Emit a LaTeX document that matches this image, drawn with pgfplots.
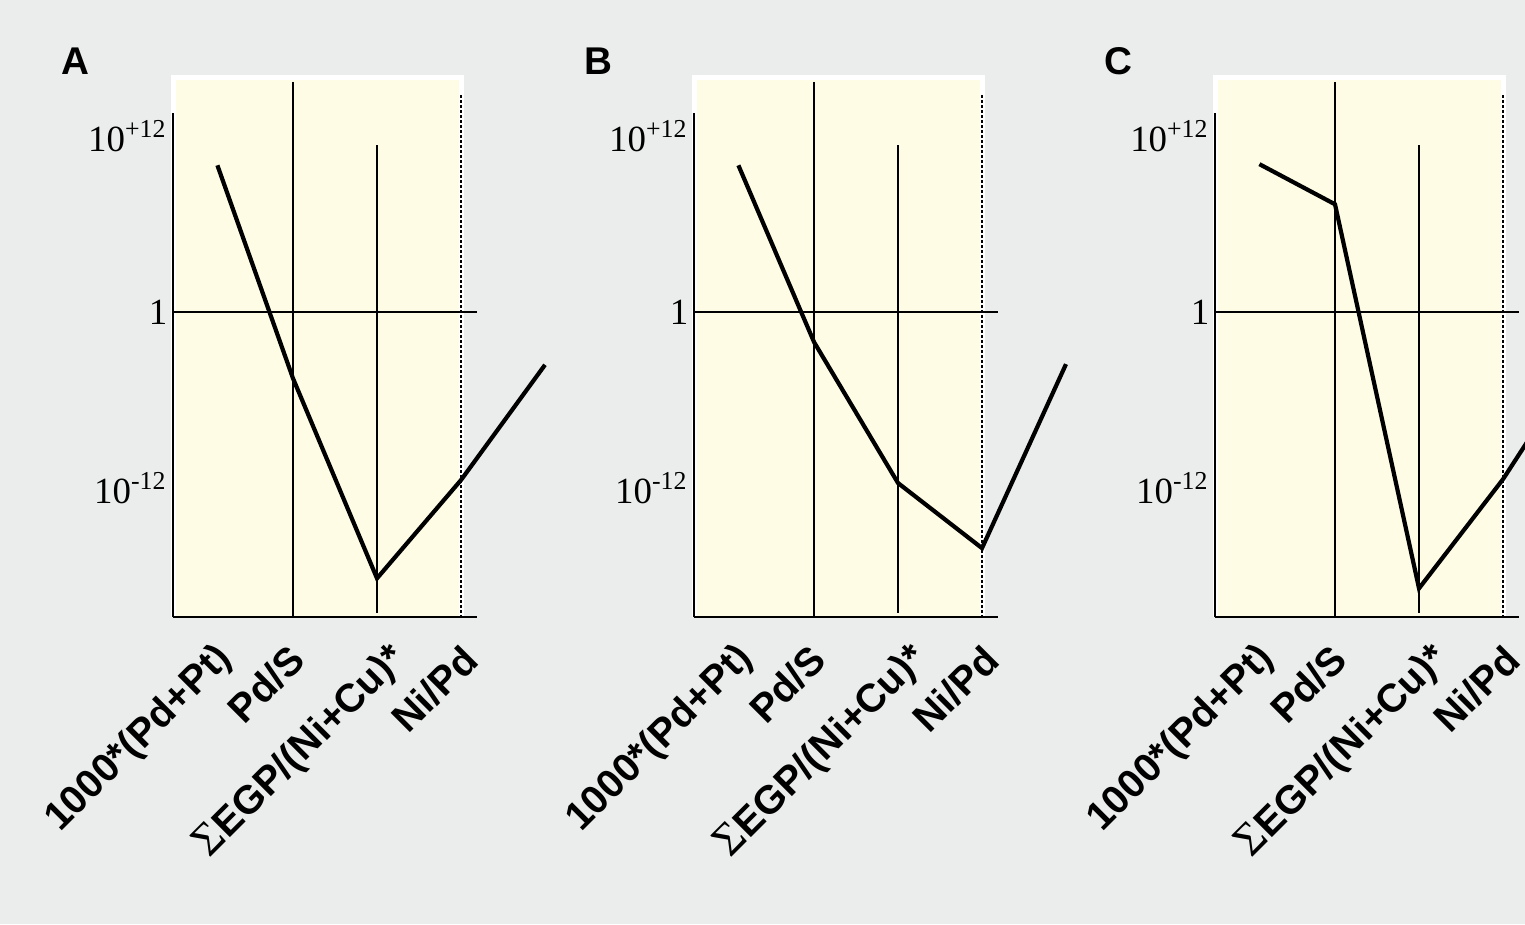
\documentclass[border=0pt]{standalone}
\usepackage{pgfplots}
\pgfplotsset{compat=1.18}
\usepackage{pgfplotstable}
\usepackage{fontspec}
\setmainfont{Liberation Sans}
\newfontfamily\serif{Liberation Serif}
\definecolor{bg}{RGB}{235,237,236}
\definecolor{plotyellow}{RGB}{254,252,228}

\pgfplotstableread{
x y
0.1 1e10
1 3e-5
2 7e-19
3 3.5e-12
4 2.5e-4
}\dataA
\pgfplotstableread{
x y
0.1 1e10
1 9e-3
2 2.2e-12
3 8e-17
4 2.8e-4
}\dataB
\pgfplotstableread{
x y
0.1 1.2e10
1 2.2e7
2 1.45e-19
3 4e-12
4 2.7e-3
}\dataC

\newcommand\panel[2]{%
\begin{axis}[
  at={(#1,30.7mm)}, anchor=south west,
  scale only axis, width=30.4mm, height=50.4mm,
  xmin=-0.4286, xmax=3.1905,
  ymode=log, ymin=1.62e-21, ymax=3.67e13,
  axis x line*=bottom, axis y line*=left,
  axis line style={line width=0.2mm},
  x axis line style={-}, y axis line style={-},
  clip=false, axis on top,
  xtick={0.036,0.893,2.107,2.952},
  xticklabels={1000*(Pd+Pt), Pd/S, {{\serif\mdseries\fontsize{13}{14}\selectfont Σ}EGP/(Ni+Cu)*}, Ni/Pd},
  xticklabel style={xshift=1.4mm, yshift=-3.55mm, rotate=45, anchor=east, inner sep=0pt,
    font=\bfseries\fontsize{11.3}{13}\selectfont},
  ytick={1e-12,1,1e12},
  yticklabels={10\textsuperscript{-12},1,10\textsuperscript{+12}},
  yticklabel style={font=\serif\fontsize{10.5}{12}\selectfont, inner sep=0pt, xshift=-0.5mm},
  major tick length=0pt,
  tick style={draw=none},
]
  \fill[white] (axis cs:-0.452,1.62e-21) rectangle (axis cs:3.036,1.44e16);
  \fill[plotyellow] (axis cs:-0.396,1.62e-21) rectangle (axis cs:2.98,6.5e15);
  \addplot[black, line width=0.2mm, mark=none] coordinates {(-0.4286,1) (3.1905,1)};
  \addplot[black, line width=0.2mm, mark=none] coordinates {(1,4.8e15) (1,1.62e-21)};
  \addplot[black, line width=0.2mm, mark=none] coordinates {(2,2.4e11) (2,3e-21)};
  \addplot[black, line width=0.16mm, dash pattern=on 0.3mm off 0.2mm, mark=none] coordinates {(3,6.2e14) (3,1.62e-21)};
  \addplot[black, line width=0.42mm, mark=none] table {#2};
\end{axis}}

\begin{document}
\begin{tikzpicture}
\useasboundingbox (0,0) rectangle (152.5mm,92.4mm);
\fill[bg] (0,0) rectangle (152.5mm,92.4mm);
\clip (0,0) rectangle (152.5mm,92.4mm);

\panel{17.3mm}{\dataA}
\panel{69.4mm}{\dataB}
\panel{121.5mm}{\dataC}

\node[font=\bfseries\fontsize{11}{13}\selectfont] at (7.55mm,86.25mm) {A};
\node[font=\bfseries\fontsize{11}{13}\selectfont] at (59.8mm,86.25mm) {B};
\node[font=\bfseries\fontsize{11}{13}\selectfont] at (111.8mm,86.25mm) {C};
\end{tikzpicture}
\end{document}
